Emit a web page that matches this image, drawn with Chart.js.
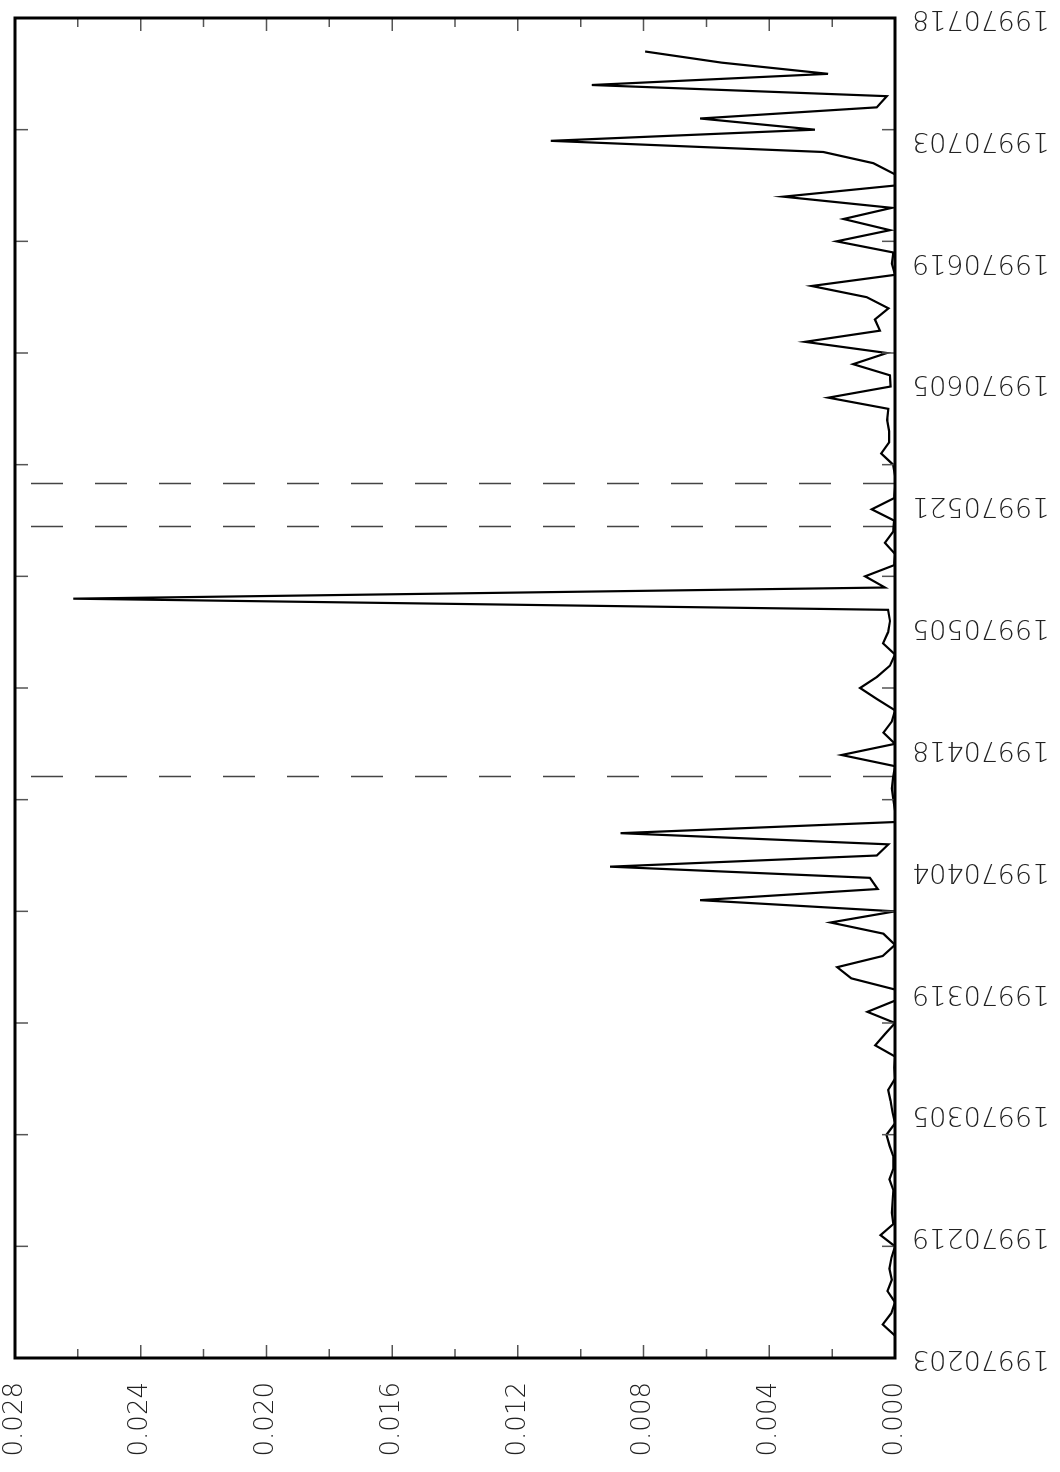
<!DOCTYPE html>
<html>
<head>
<meta charset="utf-8">
<script src="https://cdn.jsdelivr.net/npm/chart.js@4.4.0/dist/chart.umd.min.js"></script>
<style>
  html, body { margin: 0; padding: 0; background: #fff; overflow: hidden; }
  body { width: 1060px; height: 1472px; position: relative; }
  /* chart is drawn landscape, then turned a quarter left */
  #wrap {
    position: absolute; left: 0; top: 0;
    width: 1472px; height: 1060px;
    transform-origin: 0 0;
    transform: translate(0, 1472px) rotate(-90deg);
  }
</style>
</head>
<body>
<div id="wrap"><canvas id="chart"></canvas></div>
<script>
(() => {
    // trading-day index of the first value
    const firstDay = 2;
    const values = [
        0, 0.00039, 0.00012, 0, 0.00024, 0.0001, 0.00018, 0.00011, 0, 0.00046,
        0.00005, 0.0001, 0.00008, 0.00005, 0.00018, 0.00005, 0.00005, 0.00017, 0.00027, 0,
        0.00008, 0.00014, 0.00022, 0, 0.00002, 0, 0.00063, 0.00032, 0, 0.00088,
        0, 0, 0.00139, 0.00184, 0.00039, 0, 0.00037, 0.00205, 0, 0.0062,
        0.00055, 0.0008, 0.00907, 0.00058, 0.00021, 0.00873, 0, 0, 0.00005, 0.0001,
        0.00006, 0, 0.0017, 0, 0.00037, 0.0001, 0, 0.00057, 0.00111, 0.00057,
        0.00016, 0, 0.00038, 0.00022, 0.00016, 0.00022, 0.02615, 0.00032, 0.00095, 0.00003,
        0, 0.00032, 0.00006, 0.00003, 0.00074, 0.00003, 0, 0, 0.00006, 0.00044,
        0.00019, 0.00019, 0.00025, 0.00021, 0.00212, 0.00014, 0.00016, 0.00133, 0.00026, 0.00286,
        0.00048, 0.00064, 0.00021, 0.0009, 0.00265, 0, 0.0001, 0.00005, 0.00186, 0.00016,
        0.00164, 0.0001, 0.00355, 0, 0, 0.00069, 0.00228, 0.01095, 0.00255, 0.0062,
        0.00058, 0.00026, 0.00965, 0.00213, 0.00551, 0.00795
    ];
    const dateLabels = ['19970203', '19970219', '19970305', '19970319', '19970404', '19970418',
                        '19970505', '19970521', '19970605', '19970619', '19970703', '19970718'];
    const dayTicks = [0, 10, 20, 30, 40, 50, 60, 70, 80, 90, 100, 110, 120];
    const valueTicks = [0, 0.002, 0.004, 0.006, 0.008, 0.010, 0.012, 0.014,
                        0.016, 0.018, 0.020, 0.022, 0.024, 0.026, 0.028];
    const markerDays = [52, 74.45, 78.3];

    const FONT = 'DejaVu Sans';

    const framePlugin = {
        id: 'frame',
        beforeDatasetsDraw(chart) {
            const { ctx, chartArea: a, scales: { x } } = chart;
            ctx.save();
            ctx.strokeStyle = '#444';
            ctx.lineWidth = 1.5;
            ctx.setLineDash([32, 32]);
            markerDays.forEach(d => {
                const px = Math.round(x.getPixelForValue(d)) + 0.5;
                ctx.beginPath();
                ctx.moveTo(px, a.bottom);
                ctx.lineTo(px, a.top);
                ctx.stroke();
            });
            ctx.restore();
        },
        afterDatasetsDraw(chart) {
            const { ctx, chartArea: a, scales: { x, y } } = chart;
            ctx.save();
            ctx.strokeStyle = '#555';
            ctx.lineWidth = 1.5;
            dayTicks.forEach(d => {
                const px = x.getPixelForValue(d);
                ctx.beginPath();
                ctx.moveTo(px, a.bottom); ctx.lineTo(px, a.bottom - 13);
                ctx.moveTo(px, a.top); ctx.lineTo(px, a.top + 13);
                ctx.stroke();
            });
            valueTicks.forEach((v, i) => {
                const py = y.getPixelForValue(v);
                const len = i % 2 === 0 ? 13 : 9;
                ctx.beginPath();
                ctx.moveTo(a.left, py); ctx.lineTo(a.left + len, py);
                ctx.moveTo(a.right, py); ctx.lineTo(a.right - len, py);
                ctx.stroke();
            });
            ctx.strokeStyle = '#000';
            ctx.lineWidth = 3;
            ctx.strokeRect(a.left, a.top, a.right - a.left, a.bottom - a.top);
            ctx.restore();
        }
    };

    new Chart(document.getElementById('chart'), {
        type: 'line',
        data: {
            datasets: [{
                data: values.map((v, i) => ({ x: firstDay + i, y: v })),
                borderColor: '#000',
                borderWidth: 2.2,
                pointRadius: 0,
                tension: 0,
                fill: false
            }]
        },
        options: {
            responsive: true,
            maintainAspectRatio: false,
            animation: false,
            layout: { padding: { left: 0, right: 18, top: 15, bottom: 0 } },
            plugins: { legend: { display: false }, tooltip: { enabled: false } },
            scales: {
                x: { type: 'linear', min: 0, max: 120, display: false },
                xd: {
                    type: 'linear', position: 'bottom', min: 0, max: dateLabels.length - 1,
                    grid: { display: false, drawTicks: false },
                    border: { display: false },
                    ticks: {
                        stepSize: 1, autoSkip: false, minRotation: 90, maxRotation: 90,
                        padding: 17, color: '#222',
                        font: { family: FONT, size: 27, weight: '200' },
                        callback: v => dateLabels[v]
                    },
                    afterFit: s => { s.height = 165; s.paddingLeft = 0; s.paddingRight = 0; }
                },
                y: {
                    min: 0, max: 0.028,
                    grid: { display: false, drawTicks: false },
                    border: { display: false },
                    ticks: {
                        stepSize: 0.004, padding: 24, color: '#222',
                        font: { family: FONT, size: 26, weight: '200' },
                        callback: v => v.toFixed(3)
                    },
                    afterFit: s => { s.width = 114; s.paddingTop = 0; s.paddingBottom = 0; }
                }
            }
        },
        plugins: [framePlugin]
    });
})();
</script>
</body>
</html>
